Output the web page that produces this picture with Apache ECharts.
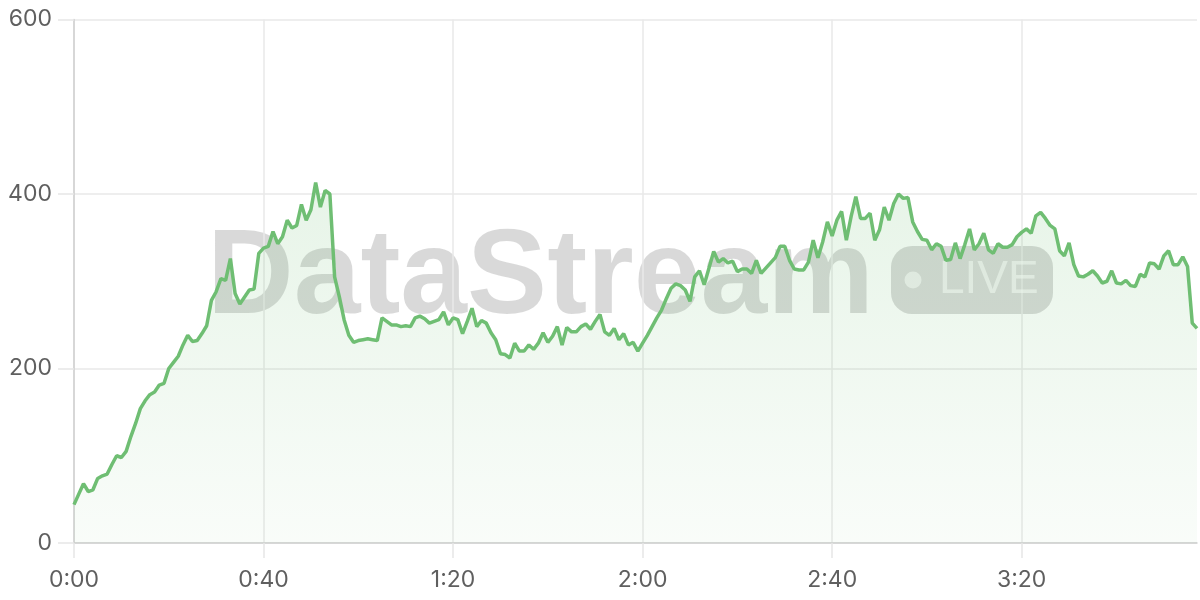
<!DOCTYPE html>
<html><head><meta charset="utf-8">
<script src="https://cdn.jsdelivr.net/npm/echarts@6/dist/echarts.min.js"></script>
<style>html,body{margin:0;padding:0;background:#fff}#c{width:1200px;height:600px}</style>
</head><body><div id="c"></div>
<script>
// one value per minute
const values = [
44,56,68,59,61,74,77,79,90,100,
98,105,122,137,154,163,170,173,181,183,
200,207,214,227,238,231,232,240,249,278,
288,303,301,326,286,274,282,290,291,332,
338,340,357,343,351,370,361,364,388,370,
382,413,385,404,400,305,282,256,238,230,
232,233,234,233,232,258,254,250,250,248,
249,248,258,260,257,252,254,256,265,250,
258,256,240,254,269,248,255,252,241,233,
217,216,212,229,220,220,227,222,229,241,
230,237,248,227,247,242,242,248,251,245,
254,262,242,238,246,233,240,227,230,220,
229,238,248,258,267,280,292,297,295,290,
277,305,312,296,315,334,322,326,321,323,
311,314,314,309,324,309,315,321,327,340,
340,324,314,313,313,322,347,327,345,368,
352,370,380,347,374,397,372,372,378,347,
359,385,370,389,400,395,396,368,357,348,
347,336,343,340,324,325,344,326,342,360,
336,343,355,336,332,343,339,339,342,351,
356,360,355,375,379,372,364,360,335,329,
344,319,306,305,308,312,306,298,300,312,
298,297,301,295,294,308,305,321,320,314,
329,335,319,319,328,317,252,246
];
const yTicks = [0, 200, 400, 600];
const xLabelEvery = 40; // minutes between labels: 0:00, 0:40, 1:20, ...
const watermarkText = 'DataStream';
const badgeText = 'LIVE';

const categories = [];
for (let m = 0; m < values.length; m++) {
  categories.push(Math.floor(m / 60) + ':' + String(m % 60).padStart(2, '0'));
}

const chart = echarts.init(document.getElementById('c'), null, {renderer: 'canvas'});
const labelFont = 'Inter';
chart.setOption({
  animation: false,
  backgroundColor: '#ffffff',
  grid: {left: 74, right: 3, top: 19.5, bottom: 57, containLabel: false},
  graphic: [
    {type: 'text', z: 0, silent: true,
     style: {x: 207, y: 280, text: watermarkText, fill: 'rgba(0,0,0,0.15)',
             font: 'bold 120px "Liberation Sans"', verticalAlign: 'middle'}},
    {type: 'rect', z: 0, silent: true,
     shape: {x: 891, y: 246, width: 162, height: 68, r: 21},
     style: {fill: 'rgba(0,0,0,0.15)'}},
    {type: 'circle', z: 1, silent: true,
     shape: {cx: 913, cy: 280, r: 8.5},
     style: {fill: 'rgba(255,255,255,0.6)'}},
    {type: 'text', z: 1, silent: true,
     style: {x: 939, y: 280, text: badgeText, fill: 'rgba(255,255,255,0.6)',
             font: '46px "Liberation Sans"', verticalAlign: 'middle'}}
  ],
  xAxis: {
    type: 'category',
    data: categories,
    boundaryGap: false,
    axisLine: {show: true, lineStyle: {color: '#cfcfcf', width: 1.5}},
    axisTick: {show: true, interval: xLabelEvery - 1, length: 15, lineStyle: {color: '#e6e6e6', width: 1.5}},
    axisLabel: {interval: xLabelEvery - 1, color: '#5f5f5f', fontFamily: labelFont, fontSize: 23, margin: 26},
    splitLine: {show: true, interval: xLabelEvery - 1, lineStyle: {color: '#e9e9e9', width: 1.5}}
  },
  yAxis: {
    type: 'value',
    min: yTicks[0], max: yTicks[yTicks.length - 1], interval: yTicks[1] - yTicks[0],
    axisLine: {show: true, lineStyle: {color: '#cfcfcf', width: 1.5}},
    axisTick: {show: true, length: 16, lineStyle: {color: '#e6e6e6', width: 1.5}},
    axisLabel: {color: '#5f5f5f', fontFamily: labelFont, fontSize: 23, margin: 22},
    splitLine: {show: true, lineStyle: {color: '#e9e9e9', width: 1.5}}
  },
  series: [{
    type: 'line',
    data: values,
    showSymbol: false,
    z: 3,
    lineStyle: {color: '#6fbe73', width: 3.5},
    itemStyle: {color: '#6fbe73'},
    areaStyle: {
      color: new echarts.graphic.LinearGradient(0, 0, 0, 1, [
        {offset: 0, color: 'rgba(112,191,116,0.24)'},
        {offset: 1, color: 'rgba(112,191,116,0.06)'}
      ])
    }
  }]
});
</script>
</body></html>
